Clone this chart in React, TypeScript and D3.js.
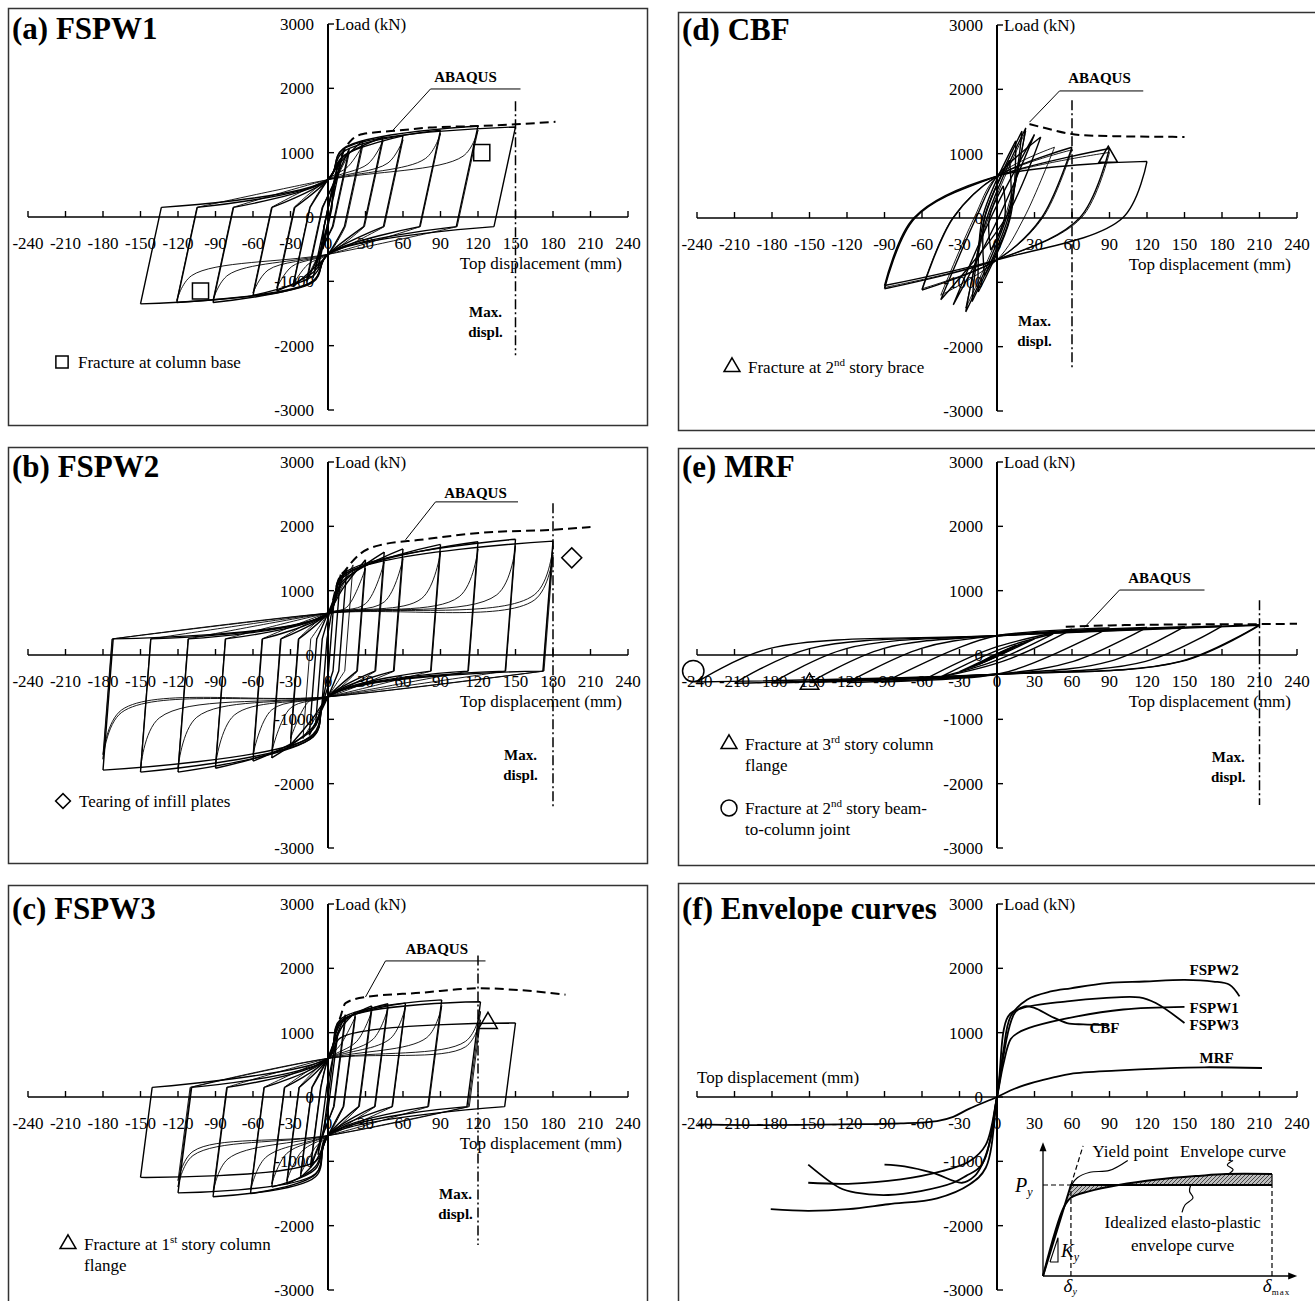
import React from 'react';
import * as d3 from 'd3';

const FONT = '"Liberation Serif", "Times New Roman", Times, serif';

const dispTicks = [-240, -210, -180, -150, -120, -90, -60, -30, 0, 30, 60, 90, 120, 150, 180, 210, 240];
const loadTicks = [-3000, -2000, -1000, 0, 1000, 2000, 3000];

// hysteresis cycles: [max disp, load there, min disp, load there, 1 = repeated cycle at that amplitude]
const fspw1Cycles = [
  [4, 500, -4, -500, 0],
  [8, 850, -8, -800, 0],
  [12, 1000, -12, -950, 0],
  [17, 1060, -17, -1000, 0],
  [17, 1000, -17, -950, 1],
  [28, 1190, -28, -1080, 0],
  [28, 1120, -28, -1050, 1],
  [44, 1240, -41, -1150, 0],
  [44, 1180, -41, -1100, 1],
  [60, 1260, -60, -1220, 0],
  [60, 1200, -60, -1180, 1],
  [90, 1350, -92, -1330, 0],
  [90, 1300, -92, -1290, 1],
  [120, 1415, -121, -1330, 0],
  [120, 1350, -121, -1300, 1],
  [150, 1400, -150, -1350, 0],
];

const fspw2Cycles = [
  [5, 900, -5, -800, 0],
  [10, 1250, -10, -1100, 0],
  [15, 1350, -15, -1250, 0],
  [20, 1400, -20, -1300, 1],
  [30, 1480, -30, -1400, 0],
  [30, 1350, -30, -1300, 1],
  [45, 1600, -45, -1600, 0],
  [45, 1450, -45, -1500, 1],
  [60, 1650, -60, -1650, 0],
  [60, 1500, -60, -1550, 1],
  [90, 1720, -90, -1760, 0],
  [90, 1600, -90, -1700, 1],
  [120, 1760, -120, -1820, 0],
  [120, 1650, -120, -1760, 1],
  [150, 1800, -150, -1820, 0],
  [150, 1700, -150, -1780, 1],
  [180, 1770, -180, -1790, 0],
  [180, 1700, -180, -1620, 1],
  [180, 1550, -180, -1550, 1],
];

const fspw3Cycles = [
  [4, 600, -4, -600, 0],
  [8, 1000, -8, -900, 0],
  [14, 1280, -14, -1100, 0],
  [14, 1200, -14, -1050, 1],
  [22, 1320, -22, -1250, 0],
  [22, 1250, -22, -1200, 1],
  [35, 1415, -33, -1350, 0],
  [35, 1330, -33, -1300, 1],
  [48, 1450, -45, -1400, 0],
  [48, 1380, -45, -1350, 1],
  [62, 1460, -62, -1500, 0],
  [62, 1400, -62, -1450, 1],
  [91, 1510, -92, -1550, 0],
  [91, 1420, -92, -1480, 1],
  [122, 1480, -120, -1490, 0],
  [122, 1330, -120, -1400, 1],
  [122, 1200, -120, -1300, 1],
  [150, 1150, -150, -1250, 0],
];

const cbfCycles = [
  [5, 500, -5, -500, 0],
  [10, 900, -10, -900, 0],
  [15, 1200, -15, -1150, 0],
  [20, 1350, -20, -1300, 0],
  [23, 1400, -25, -1460, 0],
  [23, 1350, -25, -1400, 1],
  [30, 1300, -35, -1350, 0],
  [35, 1260, -45, -1270, 0],
  [46, 1100, -45, -1200, 1],
  [60, 1100, -60, -1120, 0],
  [60, 1060, -60, -1100, 1],
  [90, 1080, -90, -1100, 0],
  [90, 1020, -90, -1080, 1],
  [120, 880, -90, -1050, 0],
];

const mrfCycles = [
  [10, 100, -10, -100, 0],
  [15, 150, -15, -150, 0],
  [20, 180, -20, -190, 0],
  [30, 250, -30, -260, 0],
  [45, 330, -45, -340, 0],
  [60, 400, -60, -400, 0],
  [90, 420, -90, -420, 0],
  [120, 430, -120, -430, 0],
  [150, 440, -150, -430, 0],
  [180, 450, -180, -435, 0],
  [210, 470, -210, -440, 0],
  [210, 460, -240, -420, 0],
];

// loop shape: unloading stiffness K (kN/mm), slip load s, pinch load c at zero displacement,
// knee (w mm, kn of peak), repeated-cycle stiffening point (v mm before peak, rp of peak)
const fspw1Shape = { K: 90, s: 150, c: 580, w: 12, kn: 0.75, v: 12, rp: 0.7, gap: 5, smooth: false };
const fspw2Shape = { K: 250, s: 250, c: 650, w: 12, kn: 0.7, v: 15, rp: 0.55, gap: 5, smooth: false };
const fspw3Shape = { K: 150, s: 150, c: 600, w: 10, kn: 0.8, v: 12, rp: 0.65, gap: 5, smooth: false };
const cbfShape = { K: 45, s: 0, c: 650, w: 0, kn: 0, v: 0, rp: 0, gap: 10, smooth: true };
const mrfShape = { K: 9, s: 100, c: 300, w: 0, kn: 0, v: 0, rp: 0, gap: 15, smooth: true };

// ABAQUS monotonic predictions (dashed)
const fspw1Abaqus = [[4, 300], [7, 700], [12, 1000], [18, 1180], [28, 1290], [54, 1340], [81, 1390], [121, 1415], [150, 1440], [182, 1480]];
const fspw2Abaqus = [[4, 850], [8, 1150], [14, 1320], [25, 1560], [42, 1710], [74, 1790], [122, 1900], [178, 1945], [210, 1990]];
const fspw3Abaqus = [[6, 1000], [10, 1250], [14, 1460], [30, 1555], [74, 1620], [122, 1690], [154, 1660], [190, 1590]];
const cbfAbaqus = [[26, 1460], [40, 1390], [55, 1320], [70, 1285], [100, 1270], [150, 1260]];
const mrfAbaqus = [[55, 440], [90, 460], [150, 475], [210, 480], [240, 485]];

// envelope curves (panel f)
const fspw1Env = [[-151, -1333], [-119, -1349], [-77, -1282], [-44, -1154], [-22, -1000], [-9, -744], [0, 0], [5, 500], [11, 900], [17, 1000], [30, 1100], [63, 1250], [101, 1360], [150, 1400]];
const fspw2Env = [[-181, -1744], [-151, -1770], [-119, -1744], [-87, -1667], [-48, -1574], [-22, -1359], [-9, -1100], [0, 0], [5, 700], [11, 1256], [24, 1513], [43, 1640], [59, 1690], [88, 1770], [118, 1795], [150, 1820], [173, 1795], [186, 1744], [194, 1564]];
const fspw3Env = [[-151, -1051], [-126, -1410], [-113, -1487], [-87, -1523], [-61, -1462], [-35, -1333], [-25, -1230], [-12, -1050], [0, 0], [9, 1256], [20, 1380], [56, 1487], [85, 1538], [114, 1549], [127, 1460], [150, 1150]];
const cbfEnv = [[-90, -1051], [-74, -1077], [-51, -1180], [-28, -1333], [-18, -1230], [-12, -1050], [-5, -641], [0, 0], [14, 1300], [22, 1410], [30, 1385], [43, 1256], [56, 1150], [69, 1128], [88, 1118]];
const mrfEnv = [[-239, -425], [-190, -436], [-125, -425], [-77, -410], [-48, -374], [-35, -308], [-22, -180], [0, 0], [14, 128], [30, 230], [46, 308], [59, 360], [95, 410], [134, 446], [166, 462], [212, 451]];

const envelopes = [
  { name: 'FSPW2', data: fspw2Env, label: [154, 1975] },
  { name: 'FSPW1', data: fspw1Env, label: [154, 1384] },
  { name: 'FSPW3', data: fspw3Env, label: [154, 1120] },
  { name: 'CBF', data: cbfEnv, label: [74, 1073] },
  { name: 'MRF', data: mrfEnv, label: [162, 600] },
];

// idealised bilinear inset (normalised: displacement 0-100 = delta_max, load 1 = Py)
const insetEnvelope = [[0, 0], [9, 0.75], [12.2, 0.86], [20, 0.93], [33, 1.0], [50, 1.06], [68, 1.1], [80, 1.12], [100, 1.12]];
const insetIdeal = [[0, 0], [12.2, 1], [100, 1]];

const panels = [
  {
    title: '(a) FSPW1', box: [8, 8, 639, 417], ox: 328, oy: 217,
    cycles: fspw1Cycles, shape: fspw1Shape, abaqus: fspw1Abaqus,
    abaqusLabel: [110, 2180], abaqusLeader: [[154, 1990], [82, 1990], [52, 1350]],
    maxDisp: 150, maxSpan: [1800, -2150], maxLabel: [126, -1480],
    markers: [{ type: 'square', at: [123, 1000], size: 260 }, { type: 'square', at: [-102, -1150], size: 260 }],
    legend: [{ type: 'square', dx: 54, dy: 354, lines: [[{ t: 'Fracture at column base' }]] }],
  },
  {
    title: '(b) FSPW2', box: [8, 447, 639, 416], ox: 328, oy: 655,
    cycles: fspw2Cycles, shape: fspw2Shape, abaqus: fspw2Abaqus,
    abaqusLabel: [118, 2520], abaqusLeader: [[152, 2380], [86, 2380], [62, 1790]],
    maxDisp: 180, maxSpan: [2360, -2360], maxLabel: [154, -1560],
    markers: [{ type: 'diamond', at: [195, 1510], size: 200 }],
    legend: [{ type: 'diamond', dx: 55, dy: 354, lines: [[{ t: 'Tearing of infill plates' }]] }],
  },
  {
    title: '(c) FSPW3', box: [8, 885, 639, 420], ox: 328, oy: 1097,
    cycles: fspw3Cycles, shape: fspw3Shape, abaqus: fspw3Abaqus,
    abaqusLabel: [87, 2300], abaqusLeader: [[126, 2115], [46, 2115], [30, 1555]],
    maxDisp: 120, maxSpan: [2200, -2300], maxLabel: [102, -1500],
    markers: [{ type: 'triangle', at: [128, 1150], size: 150 }],
    legend: [{ type: 'triangle', dx: 60, dy: 359, lines: [[{ t: 'Fracture at 1' }, { t: 'st', sup: true }, { t: ' story column' }], [{ t: 'flange' }]] }],
  },
  {
    title: '(d) CBF', box: [678, 12, 640, 418], ox: 997, oy: 218,
    cycles: cbfCycles, shape: cbfShape, abaqus: cbfAbaqus,
    abaqusLabel: [82, 2180], abaqusLeader: [[117, 1975], [50, 1975], [26, 1490]],
    maxDisp: 60, maxSpan: [1830, -2350], maxLabel: [30, -1600],
    markers: [{ type: 'triangle', at: [89, 950], size: 150 }],
    legend: [{ type: 'triangle', dx: 54, dy: 355, lines: [[{ t: 'Fracture at 2' }, { t: 'nd', sup: true }, { t: ' story brace' }]] }],
  },
  {
    title: '(e) MRF', box: [678, 448, 640, 417], ox: 997, oy: 655,
    cycles: mrfCycles, shape: mrfShape, abaqus: mrfAbaqus,
    abaqusLabel: [130, 1200], abaqusLeader: [[166, 1010], [98, 1010], [70, 430]],
    maxDisp: 210, maxSpan: [850, -2330], maxLabel: [185, -1580],
    markers: [{ type: 'triangle', at: [-150, -450], size: 150 }, { type: 'circle', at: [-243, -250], size: 360 }],
    legend: [
      { type: 'triangle', dx: 51, dy: 296, lines: [[{ t: 'Fracture at 3' }, { t: 'rd', sup: true }, { t: ' story column' }], [{ t: 'flange' }]] },
      { type: 'circle', dx: 51, dy: 360, lines: [[{ t: 'Fracture at 2' }, { t: 'nd', sup: true }, { t: ' story beam-' }], [{ t: 'to-column joint' }]] },
    ],
  },
];

function symbolPath(type: string, size: number) {
  const t = type === 'triangle' ? d3.symbolTriangle : type === 'circle' ? d3.symbolCircle : d3.symbolSquare;
  return d3.symbol(t, size)() as string;
}

function Marker({ type, x, y, size }: any) {
  const rot = type === 'diamond' ? ' rotate(45)' : '';
  return <path d={symbolPath(type, size)} transform={`translate(${x},${y})${rot}`} fill="none" stroke="#000" strokeWidth={1.5} />;
}

function loopPath(cy: number[], sh: any, x: any, y: any) {
  const [dp, pp, dn, pn, rep] = cy;
  const sP = Math.min(sh.s, 0.4 * pp);
  const sN = Math.min(sh.s, 0.4 * -pn);
  const E = [dp, pp];
  const A = [dn, pn];
  const F = [dp - (pp + sN) / sh.K, -sN];
  const B = [dn + (sP - pn) / sh.K, sP];
  const down = [F];
  if (F[0] > sh.gap) {
    down.push([0, -sh.c]);
    if (rep === 0 && sh.w && -dn > 1.5 * sh.w) down.push([-sh.w, sh.kn * pn]);
    if (rep === 1 && sh.v && -dn > sh.v + sh.gap) down.push([dn + sh.v, sh.rp * pn]);
  }
  down.push(A);
  const up = [B];
  if (B[0] < -sh.gap) {
    up.push([0, sh.c]);
    if (rep === 0 && sh.w && dp > 1.5 * sh.w) up.push([sh.w, sh.kn * pp]);
    if (rep === 1 && sh.v && dp > sh.v + sh.gap) up.push([dp - sh.v, sh.rp * pp]);
  }
  up.push(E);
  const curve = d3.line<number[]>().x((d) => x(d[0])).y((d) => y(d[1])).curve(d3.curveCatmullRom.alpha(0.5));
  const straight = d3.line<number[]>().x((d) => x(d[0])).y((d) => y(d[1]));
  if (sh.smooth) return `${curve([E, ...down])}${curve([A, ...up])}`;
  return `${straight([E, F])}${curve(down)}${straight([A, B])}${curve(up)}`;
}

function Axes({ x, y, ox, oy, inPlotXLabel }: any) {
  return (
    <g>
      <line x1={x(-240)} x2={x(240)} y1={oy} y2={oy} stroke="#000" strokeWidth={1.6} />
      {dispTicks.map((t) => (
        <g key={t}>
          <line x1={x(t)} x2={x(t)} y1={oy} y2={oy - 6} stroke="#000" strokeWidth={1.4} />
          <text x={x(t)} y={oy + 32} fontSize={17} textAnchor="middle">{t}</text>
        </g>
      ))}
      <line x1={ox} x2={ox} y1={y(3000)} y2={y(-3000)} stroke="#000" strokeWidth={2} />
      {loadTicks.map((t) => (
        <g key={t}>
          <line x1={ox} x2={ox + 6} y1={y(t)} y2={y(t)} stroke="#000" strokeWidth={1.4} />
          <text x={ox - 14} y={y(t) + 6} fontSize={17} textAnchor="end">{t}</text>
        </g>
      ))}
      <text x={ox + 7} y={y(3000) + 6} fontSize={17}>Load (kN)</text>
      {inPlotXLabel ? (
        <text x={x(-240)} y={oy - 14} fontSize={17}>Top displacement (mm)</text>
      ) : (
        <text x={ox + 294} y={oy + 52} fontSize={17} textAnchor="end">Top displacement (mm)</text>
      )}
    </g>
  );
}

function LegendItem({ item, bx, by }: any) {
  const mx = bx + item.dx;
  const my = by + item.dy;
  const size = item.type === 'circle' ? 200 : item.type === 'triangle' ? 110 : item.type === 'diamond' ? 110 : 150;
  return (
    <g>
      <Marker type={item.type} x={mx} y={my} size={size} />
      {item.lines.map((segs: any[], i: number) => (
        <text key={i} x={mx + 16} y={my + 6 + i * 21} fontSize={17}>
          {segs.map((s, j) => {
            const prevSup = j > 0 && segs[j - 1].sup;
            if (s.sup) return <tspan key={j} dy={-7} fontSize={11}>{s.t}</tspan>;
            return <tspan key={j} dy={prevSup ? 7 : 0}>{s.t}</tspan>;
          })}
        </text>
      ))}
    </g>
  );
}

function HystPanel({ p }: any) {
  const [bx, by, bw, bh] = p.box;
  const x = d3.scaleLinear().domain([-240, 240]).range([p.ox - 300, p.ox + 300]);
  const y = d3.scaleLinear().domain([-3000, 3000]).range([p.oy + 193, p.oy - 193]);
  const smooth = d3.line<number[]>().x((d) => x(d[0])).y((d) => y(d[1])).curve(d3.curveMonotoneX);
  const poly = d3.line<number[]>().x((d) => x(d[0])).y((d) => y(d[1]));
  return (
    <g>
      <rect x={bx + 0.5} y={by + 0.5} width={bw} height={bh} fill="none" stroke="#333" strokeWidth={1.5} />
      <text x={bx + 4} y={p.oy - 178} fontSize={31} fontWeight="bold">{p.title}</text>
      <Axes x={x} y={y} ox={p.ox} oy={p.oy} />
      {p.cycles.map((cy: number[], i: number) => (
        <path key={i} d={loopPath(cy, p.shape, x, y)} fill="none" stroke="#000"
          strokeWidth={cy[4] ? 0.9 : 1.4} strokeLinejoin="round" />
      ))}
      <path d={smooth(p.abaqus) as string} fill="none" stroke="#000" strokeWidth={2} strokeDasharray="9 5" />
      <path d={poly(p.abaqusLeader) as string} fill="none" stroke="#000" strokeWidth={1} />
      <text x={x(p.abaqusLabel[0])} y={y(p.abaqusLabel[1]) + 5} fontSize={15} fontWeight="bold" textAnchor="middle">ABAQUS</text>
      <line x1={x(p.maxDisp)} x2={x(p.maxDisp)} y1={y(p.maxSpan[0])} y2={y(p.maxSpan[1])}
        stroke="#000" strokeWidth={1.5} strokeDasharray="10 3 2 3" />
      <text x={x(p.maxLabel[0])} y={y(p.maxLabel[1]) + 5} fontSize={15} fontWeight="bold" textAnchor="middle">Max.</text>
      <text x={x(p.maxLabel[0])} y={y(p.maxLabel[1]) + 25} fontSize={15} fontWeight="bold" textAnchor="middle">displ.</text>
      {p.markers.map((m: any, i: number) => (
        <Marker key={i} type={m.type} x={x(m.at[0])} y={y(m.at[1])} size={m.size} />
      ))}
      {p.legend.map((it: any, i: number) => <LegendItem key={i} item={it} bx={bx} by={by} />)}
    </g>
  );
}

function EnvelopePanel() {
  const box = [678, 883, 640, 422];
  const ox = 997;
  const oy = 1097;
  const x = d3.scaleLinear().domain([-240, 240]).range([ox - 300, ox + 300]);
  const y = d3.scaleLinear().domain([-3000, 3000]).range([oy + 193, oy - 193]);
  const env = d3.line<number[]>().x((d) => x(d[0])).y((d) => y(d[1])).curve(d3.curveCatmullRom.alpha(0.5));

  const ix = d3.scaleLinear().domain([0, 100]).range([ox + 46, ox + 275]);
  const iy = d3.scaleLinear().domain([0, 1]).range([oy + 179, oy + 88]);
  const il = d3.line<number[]>().x((d) => ix(d[0])).y((d) => iy(d[1]));
  const ic = d3.line<number[]>().x((d) => ix(d[0])).y((d) => iy(d[1])).curve(d3.curveCatmullRom.alpha(0.5));
  const hatch = [...insetEnvelope.slice(1), [100, 1], [12.2, 1]];

  return (
    <g>
      <defs>
        <pattern id="hatch" width={4} height={4} patternUnits="userSpaceOnUse">
          <rect width={4} height={4} fill="#bdbdbd" />
          <path d="M0,4 L4,0 M-1,1 L1,-1 M3,5 L5,3" stroke="#444" strokeWidth={1} />
        </pattern>
      </defs>
      <rect x={box[0] + 0.5} y={box[1] + 0.5} width={box[2]} height={box[3]} fill="none" stroke="#333" strokeWidth={1.5} />
      <text x={box[0] + 4} y={oy - 178} fontSize={31} fontWeight="bold">(f) Envelope curves</text>
      <Axes x={x} y={y} ox={ox} oy={oy} inPlotXLabel />
      {envelopes.map((e) => (
        <g key={e.name}>
          <path d={env(e.data) as string} fill="none" stroke="#000" strokeWidth={1.8} />
          <text x={x(e.label[0])} y={y(e.label[1]) + 5} fontSize={15} fontWeight="bold">{e.name}</text>
        </g>
      ))}

      {/* inset: idealized elasto-plastic envelope */}
      <path d={il(hatch) as string} fill="url(#hatch)" stroke="none" />
      <line x1={ix(0)} x2={ix(0)} y1={iy(0)} y2={iy(1.4)} stroke="#000" strokeWidth={1.3} />
      <path d={`M${ix(0)},${iy(1.47)} l-3.5,9 l7,0 z`} fill="#000" />
      <line x1={ix(0)} x2={ix(108)} y1={iy(0)} y2={iy(0)} stroke="#000" strokeWidth={1.3} />
      <path d={`M${ix(111)},${iy(0)} l-9,-3.5 l0,7 z`} fill="#000" />
      <path d={il([[0, 1], [12.2, 1]]) as string} stroke="#000" strokeWidth={1.2} strokeDasharray="5 3" />
      <path d={il([[12.2, 0], [12.2, 1]]) as string} stroke="#000" strokeWidth={1.2} strokeDasharray="5 3" />
      <path d={il([[100, 0], [100, 1]]) as string} stroke="#000" strokeWidth={1.2} strokeDasharray="5 3" />
      <path d={il([[12.2, 1], [17.5, 1.43]]) as string} stroke="#000" strokeWidth={1.2} strokeDasharray="5 3" />
      <path d={il(insetIdeal) as string} fill="none" stroke="#000" strokeWidth={2} />
      <path d={ic(insetEnvelope) as string} fill="none" stroke="#000" strokeWidth={2} />
      <path d={il([[100, 1], [100, 1.12]]) as string} stroke="#000" strokeWidth={1.2} />
      <path d={il([[3.05, 0.154], [6.55, 0.154], [6.55, 0.42], [3.05, 0.154]]) as string} fill="none" stroke="#000" strokeWidth={1.1} />
      <path d={ic([[37, 1.27], [29, 1.16], [20.5, 1.14], [15, 1.08], [12.7, 1.01]]) as string} fill="none" stroke="#000" strokeWidth={1.2} />
      <path d={ic([[83, 1.27], [80.5, 1.22], [83, 1.17], [81, 1.12]]) as string} fill="none" stroke="#000" strokeWidth={1.2} />
      <path d={ic([[60.7, 0.7], [62, 0.78], [65.5, 0.86], [64, 0.93], [64.5, 1.0]]) as string} fill="none" stroke="#000" strokeWidth={1.2} />
      <text x={ix(21.6)} y={iy(1.31)} fontSize={17}>Yield point</text>
      <text x={ix(59.8)} y={iy(1.31)} fontSize={17}>Envelope curve</text>
      <text x={ix(61)} y={iy(0.53)} fontSize={17} textAnchor="middle">Idealized elasto-plastic</text>
      <text x={ix(61)} y={iy(0.27)} fontSize={17} textAnchor="middle">envelope curve</text>
      <text x={ix(-12.2)} y={iy(0.92)} fontSize={20} fontStyle="italic">P<tspan fontSize={12} dy={4}>y</tspan></text>
      <text x={ix(7.9)} y={iy(0.21)} fontSize={19} fontStyle="italic">K<tspan fontSize={12} dy={4}>y</tspan></text>
      <text x={ix(9)} y={iy(-0.18)} fontSize={19} fontStyle="italic">δ<tspan fontSize={10} dy={3}>y</tspan></text>
      <text x={ix(96)} y={iy(-0.18)} fontSize={19} fontStyle="italic">δ<tspan fontSize={9} dy={3} fontStyle="normal" letterSpacing={1}>max</tspan></text>
    </g>
  );
}

export default function App() {
  return (
    <svg width={1315} height={1301} style={{ position: 'absolute', left: 0, top: 0, background: '#fff' }}
      fontFamily={FONT}>
      <rect width={1315} height={1301} fill="#fff" />
      {panels.map((p) => <HystPanel key={p.title} p={p} />)}
      <EnvelopePanel />
    </svg>
  );
}
